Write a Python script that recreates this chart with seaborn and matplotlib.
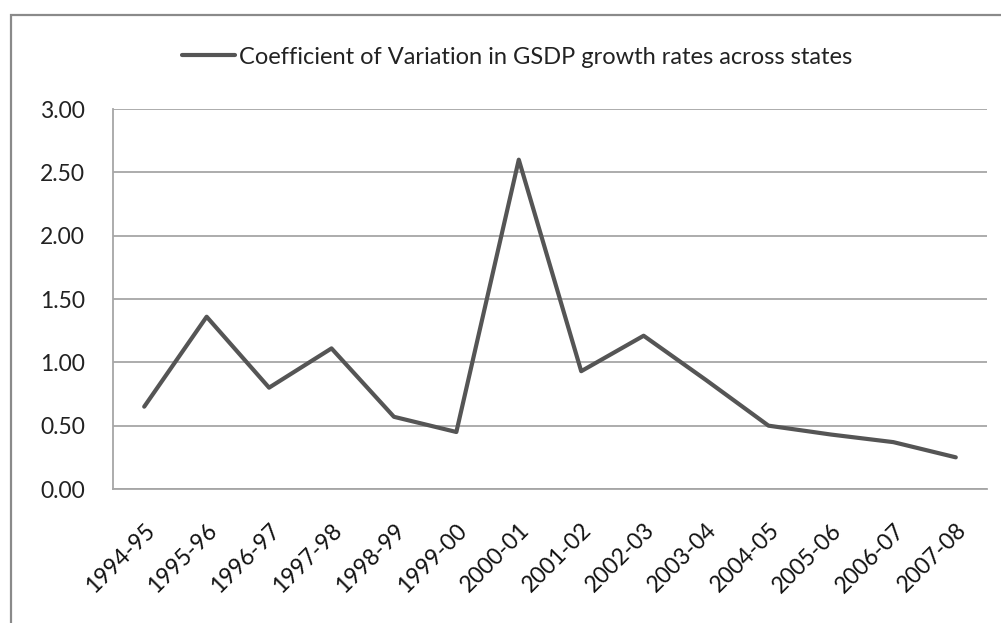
import matplotlib
matplotlib.use("Agg")
import matplotlib.pyplot as plt
from matplotlib.patches import Rectangle
from matplotlib.ticker import FixedLocator, MultipleLocator
import seaborn as sns
import pandas as pd

years = ["1994-95", "1995-96", "1996-97", "1997-98", "1998-99", "1999-00", "2000-01",
         "2001-02", "2002-03", "2003-04", "2004-05", "2005-06", "2006-07", "2007-08"]
cv_values = [0.65, 1.36, 0.80, 1.11, 0.57, 0.45, 2.60,
             0.93, 1.21, 0.86, 0.50, 0.43, 0.37, 0.25]
series_name = "Coefficient of Variation in GSDP growth rates across states"

df = pd.DataFrame({"Year": years, "CV": cv_values})

sns.set_theme(style="white")
plt.rcParams["font.family"] = ["Lato", "DejaVu Sans"]

fig = plt.figure(figsize=(10.01, 6.23), dpi=100)
ax = fig.add_axes([113 / 1001, 1 - 489 / 623, (987 - 113) / 1001, (489 - 109) / 623])

line_color = "#555555"
grid_color = "#a6a6a6"

sns.lineplot(data=df, x="Year", y="CV", ax=ax, color=line_color, linewidth=3.0,
             label=series_name, sort=False)

ax.set_xlim(-0.5, len(years) - 0.5)
ax.set_ylim(0, 3.0)
ax.yaxis.set_major_locator(MultipleLocator(0.5))
ax.yaxis.set_major_formatter(matplotlib.ticker.FormatStrFormatter("%.2f"))
ax.grid(axis="y", color=grid_color, linewidth=1.3)
ax.grid(axis="x", visible=False)
ax.set_axisbelow(True)

ax.set_xticks(range(len(years)))
ax.set_xticklabels(years, rotation=45, ha="right", va="top", rotation_mode="anchor")
ax.xaxis.set_minor_locator(FixedLocator([i - 0.5 for i in range(len(years) + 1)]))
ax.tick_params(axis="x", which="major", length=0, pad=22, labelsize=16.5, labelcolor="#111111")
ax.tick_params(axis="x", which="minor", length=8, width=1.2, color=grid_color, direction="out")
ax.tick_params(axis="y", length=8, width=1.2, color=grid_color, direction="out",
               pad=12, labelsize=16.5, labelcolor="#222222")
ax.set_xlabel("")
ax.set_ylabel("")

for side in ["top", "right"]:
    ax.spines[side].set_visible(False)
for side in ["left", "bottom"]:
    ax.spines[side].set_color(grid_color)
    ax.spines[side].set_linewidth(1.3)

ax.get_legend().remove()
handles, labels = ax.get_legend_handles_labels()
fig.legend(handles, labels, loc="center", bbox_to_anchor=(517 / 1001, 1 - 57 / 623),
           frameon=False, fontsize=17, handlelength=2.25, handletextpad=0.15,
           labelcolor="#222222")

# outer chart frame (left and top edges)
fig.patches.append(Rectangle((11 / 1001, -0.5), 2.0, 1.5 - 15 / 623,
                             transform=fig.transFigure, fill=False,
                             edgecolor="#8a8a8a", linewidth=1.6))

fig.savefig("out.png", dpi=100, facecolor="white")
